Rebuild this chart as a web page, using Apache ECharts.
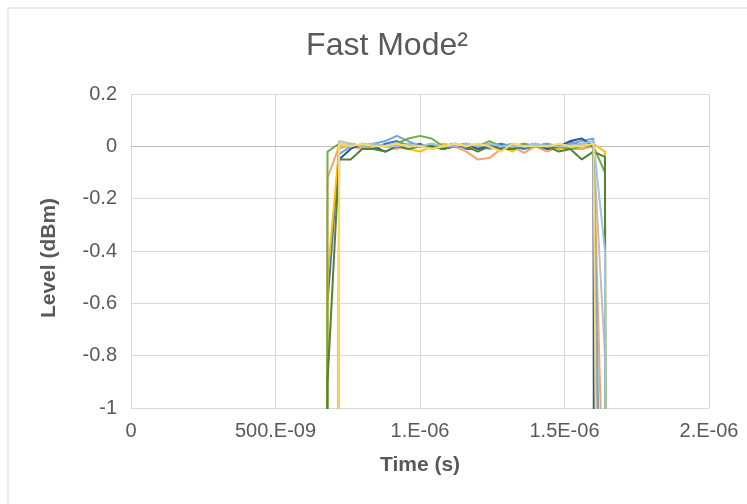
<!DOCTYPE html>
<html>
<head>
<meta charset="utf-8">
<script src="https://cdn.jsdelivr.net/npm/echarts@6/dist/echarts.min.js"></script>
<style>
html,body{margin:0;padding:0;background:#fff;}
#chart{width:747px;height:504px;}
</style>
</head>
<body>
<div id="chart"></div>
<script>
// Sample times in nanoseconds
var timeNs = [600,640,680,720,760,800,840,880,920,960,1000,1040,1080,1120,1160,1200,1240,1280,1320,1360,1400,1440,1480,1520,1560,1600,1640,1680,1720];
var xTickLabels = ['0','500.E-09','1.E-06','1.5E-06','2.E-06'];

var s1 = [-30,-30,-0.6,-0.01,0.01,0.0,-0.01,0.01,0.02,0.0,0.01,-0.01,0.0,0.01,-0.01,-0.01,0.0,0.01,0.0,-0.01,0.0,0.01,-0.01,0.02,0.0,0.01,-3,-30,-30];
var s2 = [-30,-30,-0.12,0.0,0.0,-0.01,0.0,0.0,-0.01,0.01,0.0,0.0,-0.01,0.0,-0.02,-0.05,-0.045,-0.01,0.0,-0.025,0.0,-0.02,0.0,-0.01,-0.01,0.0,-1.6,-30,-30];
var s3 = [-30,-30,-30,0.02,0.01,0.0,0.01,0.0,0.0,0.01,0.0,0.0,0.01,0.0,0.0,0.01,0.0,0.0,0.0,0.01,0.0,0.0,0.0,0.01,0.0,0.0,-0.8,-30,-30];
var s4 = [-30,-30,-0.5,-0.01,0.01,0.0,0.01,0.0,0.0,-0.01,-0.02,0.0,0.01,0.0,0.0,-0.01,0.01,0.0,-0.02,0.01,0.0,0.0,-0.01,0.0,0.01,0.01,-0.02,-30,-30];
var s5 = [-30,-30,-30,-0.03,0.0,0.0,0.01,0.02,0.04,0.02,0.0,0.01,0.0,0.0,0.01,0.0,-0.01,0.0,0.01,0.0,0.0,0.01,0.0,0.01,0.02,0.03,-2.5,-30,-30];
var s6 = [-30,-30,-0.02,0.01,0.0,0.0,0.01,0.0,0.01,0.03,0.04,0.03,0.0,0.01,0.0,0.0,0.02,0.0,0.0,0.01,0.0,-0.01,0.0,-0.01,0.0,0.0,-0.1,-30,-30];
var s7 = [-30,-30,-30,-0.05,-0.01,0.01,0.0,-0.02,0.0,0.01,0.0,0.0,-0.01,0.0,0.01,-0.01,0.0,0.0,-0.01,0.0,0.01,-0.01,0.0,0.02,0.03,0.0,-30,-30,-30];
var s8 = [-30,-30,-0.9,-0.05,-0.05,-0.01,-0.01,-0.02,0.0,-0.01,0.0,0.0,-0.01,0.0,0.0,-0.02,0.0,-0.01,-0.01,0.0,0.0,0.0,-0.02,-0.01,-0.05,-0.02,-0.04,-30,-30];
var s9 = [-30,-30,-30,0.0,0.01,0.0,0.01,0.0,0.0,0.01,0.0,0.01,0.0,0.0,0.01,0.0,0.01,0.0,0.0,0.0,0.01,0.0,0.0,0.0,0.01,0.02,-0.4,-30,-30];
var s10 = [-30,-30,-30,0.01,0.0,0.01,0.0,0.0,0.01,0.0,0.0,-0.01,0.0,0.01,0.0,0.01,0.0,-0.02,0.01,0.0,0.0,0.0,0.01,0.0,0.0,0.01,-5,-30,-30];

var seriesValues = [s1,s2,s3,s4,s5,s6,s7,s8,s9,s10];
var seriesColors = ['#4472C4','#F4A46E','#BFBFBF','#FFC000','#6FA8DC','#70AD47','#2F5597','#548235','#9DC3E6','#FFD966'];

var chart = echarts.init(document.getElementById('chart'));
var series = seriesValues.map(function(vals, k){
  return {
    type:'line',
    data: vals.map(function(v,i){ return [timeNs[i], v]; }),
    showSymbol:false,
    symbol:'none',
    clip:true,
    lineStyle:{width:2,color:seriesColors[k]},
    itemStyle:{color:seriesColors[k]},
    animation:false
  };
});

chart.setOption({
  backgroundColor:'#fff',
  animation:false,
  title:{
    text:'Fast Mode\u00B2',
    left:382, top:25,
    textAlign:'center',
    textStyle:{fontFamily:'Liberation Sans',fontSize:32,fontWeight:'normal',color:'#595959'}
  },
  graphic:[{type:'rect',shape:{x:8,y:8,width:800,height:600},style:{fill:'none',stroke:'#D9D9D9',lineWidth:1},silent:true}],
  grid:{left:131,right:38,top:94,bottom:96},
  xAxis:{
    type:'value',min:0,max:2000,interval:500,
    name:'Time (s)',nameLocation:'middle',nameGap:47,
    nameTextStyle:{fontFamily:'Liberation Sans',fontSize:21,fontWeight:'bold',color:'#595959'},
    axisLine:{show:true,lineStyle:{color:'#BFBFBF',width:1}},
    axisTick:{show:false},
    splitLine:{show:true,lineStyle:{color:'#D9D9D9',width:1}},
    axisLabel:{margin:13,fontFamily:'Liberation Sans',fontSize:20,color:'#595959',
      formatter:function(v){ return xTickLabels[Math.round(v/500)]; }}
  },
  yAxis:{
    type:'value',min:-1,max:0.2,interval:0.2,
    name:'Level (dBm)',nameLocation:'middle',nameGap:71,
    nameTextStyle:{fontFamily:'Liberation Sans',fontSize:21,fontWeight:'bold',color:'#595959',padding:[0,14,0,0]},
    axisLine:{show:true,lineStyle:{color:'#D9D9D9',width:1}},
    axisTick:{show:false},
    splitLine:{show:true,lineStyle:{color:'#D9D9D9',width:1}},
    axisLabel:{margin:14,fontFamily:'Liberation Sans',fontSize:20,color:'#595959',
      formatter:function(v){ return String(Math.round(v*10)/10); }}
  },
  series:series
});
</script>
</body>
</html>
